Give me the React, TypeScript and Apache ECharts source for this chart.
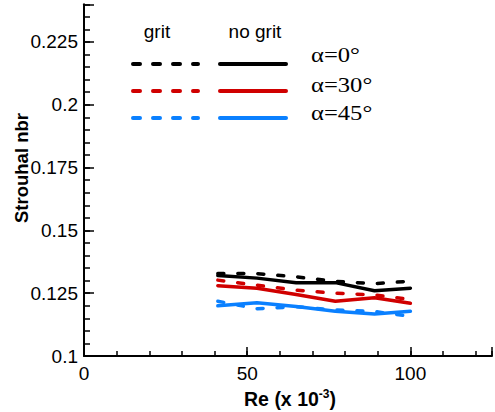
import React, { useEffect, useRef } from "react";
import * as echarts from "echarts";

const reValues = [41, 53, 65, 77, 89, 100];
const gritA0 = [0.1328, 0.1328, 0.1315, 0.1297, 0.1288, 0.1298];
const noGritA0 = [0.132, 0.131, 0.1292, 0.1292, 0.126, 0.127];
const gritA30 = [0.1302, 0.1282, 0.1262, 0.125, 0.1243, 0.1225];
const noGritA30 = [0.128, 0.127, 0.1245, 0.1218, 0.1232, 0.121];
const gritA45 = [0.1218, 0.1188, 0.1196, 0.1183, 0.1177, 0.1158];
const noGritA45 = [0.12, 0.1212, 0.1197, 0.1178, 0.1167, 0.1178];

const legendHeaders = ["grit", "no grit"];
const angleLabels = ["α=0°", "α=30°", "α=45°"];
const colors = ["#000000", "#d00000", "#0a80ff"];

const xMin = 0, xMax = 125, xInterval = 50, xMinor = 10;
const yMin = 0.1, yMax = 0.24, yInterval = 0.025, yMinor = 0.005;

const SANS = "Liberation Sans";
const SERIF = "Liberation Serif";

export default function App() {
  const ref = useRef<HTMLDivElement>(null);
  useEffect(() => {
    if (!ref.current) return;
    const chart = echarts.init(ref.current, undefined, { renderer: "svg" });
    const toPairs = (ys: number[]) => ys.map((y, i) => [reValues[i], y]);
    const groups = [
      [gritA0, noGritA0],
      [gritA30, noGritA30],
      [gritA45, noGritA45],
    ];
    const series: any[] = [];
    groups.forEach((g, i) => {
      series.push({
        type: "line",
        data: toPairs(g[0]),
        symbol: "none",
        lineStyle: { color: colors[i], width: 3.5, type: [6, 14], cap: "round", join: "round" },
        z: 3,
      });
      series.push({
        type: "line",
        data: toPairs(g[1]),
        symbol: "none",
        lineStyle: { color: colors[i], width: 3.5, type: "solid", cap: "round", join: "round" },
        z: 3,
      });
    });
    const legendRowsY = [64, 91, 118];
    const labelRowsY = [54, 84, 112.5];
    const graphic: any[] = [
      { type: "text", x: 157, y: 31, style: { text: legendHeaders[0], fontFamily: SANS, fontSize: 19, fill: "#000", align: "center", verticalAlign: "middle" } },
      { type: "text", x: 255, y: 31, style: { text: legendHeaders[1], fontFamily: SANS, fontSize: 19, fill: "#000", align: "center", verticalAlign: "middle" } },
      { type: "text", x: 21, y: 168, rotation: Math.PI / 2, style: { text: "Strouhal nbr", fontFamily: SANS, fontSize: 18.5, fontWeight: "bold", fill: "#000", align: "center", verticalAlign: "middle" } },
      {
        type: "text", x: 290, y: 399,
        style: {
          text: "{a|Re (x 10}{s|-3}{a|)}",
          align: "center", verticalAlign: "middle", fill: "#000",
          rich: {
            a: { fontFamily: SANS, fontSize: 19.5, fontWeight: "bold", lineHeight: 23, fill: "#000" },
            s: { fontFamily: SANS, fontSize: 12, fontWeight: "bold", lineHeight: 13, verticalAlign: "top", fill: "#000" },
          },
        },
      },
    ];
    colors.forEach((c, i) => {
      graphic.push({ type: "line", shape: { x1: 133, y1: legendRowsY[i], x2: 198, y2: legendRowsY[i] }, style: { stroke: c, lineWidth: 4, lineDash: [7, 13], lineCap: "round" } });
      graphic.push({ type: "line", shape: { x1: 220, y1: legendRowsY[i], x2: 286, y2: legendRowsY[i] }, style: { stroke: c, lineWidth: 4, lineCap: "round" } });
      graphic.push({ type: "text", x: 311, y: labelRowsY[i], scaleX: 1.12, style: { text: angleLabels[i], fontFamily: SERIF, fontSize: 22, fill: "#000", align: "left", verticalAlign: "middle" } });
    });
    const isMult = (v: number, step: number) => Math.abs(v / step - Math.round(v / step)) < 1e-6;
    chart.setOption({
      animation: false,
      backgroundColor: "#ffffff",
      grid: { left: 84, right: -3.5, top: 4.3, bottom: 56, containLabel: false },
      xAxis: [
        {
          type: "value", min: xMin, max: xMax, interval: xInterval, position: "bottom",
          axisLine: { show: true, lineStyle: { color: "#000", width: 2 } },
          axisTick: { show: true, inside: true, length: 9, lineStyle: { color: "#000", width: 1.5 } },
          axisLabel: {
            show: true, margin: 8, color: "#000", fontSize: 19, fontFamily: SANS,
            formatter: (v: number) => (isMult(v, xInterval) ? String(v) : ""),
          },
          splitLine: { show: false },
        },
        {
          type: "value", min: xMin, max: xMax, interval: xMinor, position: "bottom", offset: 0,
          axisLine: { show: false },
          axisTick: { show: true, inside: true, length: 5, lineStyle: { color: "#000", width: 1.5 } },
          axisLabel: { show: false },
          splitLine: { show: false },
        },
      ],
      yAxis: [
        {
          type: "value", min: yMin, max: yMax, interval: yInterval, position: "left",
          axisLine: { show: true, lineStyle: { color: "#000", width: 2 } },
          axisTick: { show: true, inside: true, length: 10, lineStyle: { color: "#000", width: 1.5 } },
          axisLabel: {
            show: true, margin: 6, color: "#000", fontSize: 19, fontFamily: SANS,
            formatter: (v: number) => (isMult(v, yInterval) ? String(Math.round(v * 1000) / 1000) : ""),
          },
          splitLine: { show: false },
        },
        {
          type: "value", min: yMin, max: yMax, interval: yMinor, position: "left", offset: 0,
          axisLine: { show: false },
          axisTick: { show: true, inside: true, length: 6, lineStyle: { color: "#000", width: 1.5 } },
          axisLabel: { show: false },
          splitLine: { show: false },
        },
      ],
      series,
      graphic,
    });
    return () => chart.dispose();
  }, []);
  return (
    <div
      ref={ref}
      style={{ position: "fixed", left: 0, top: 0, width: 495, height: 412, background: "#fff" }}
    />
  );
}
